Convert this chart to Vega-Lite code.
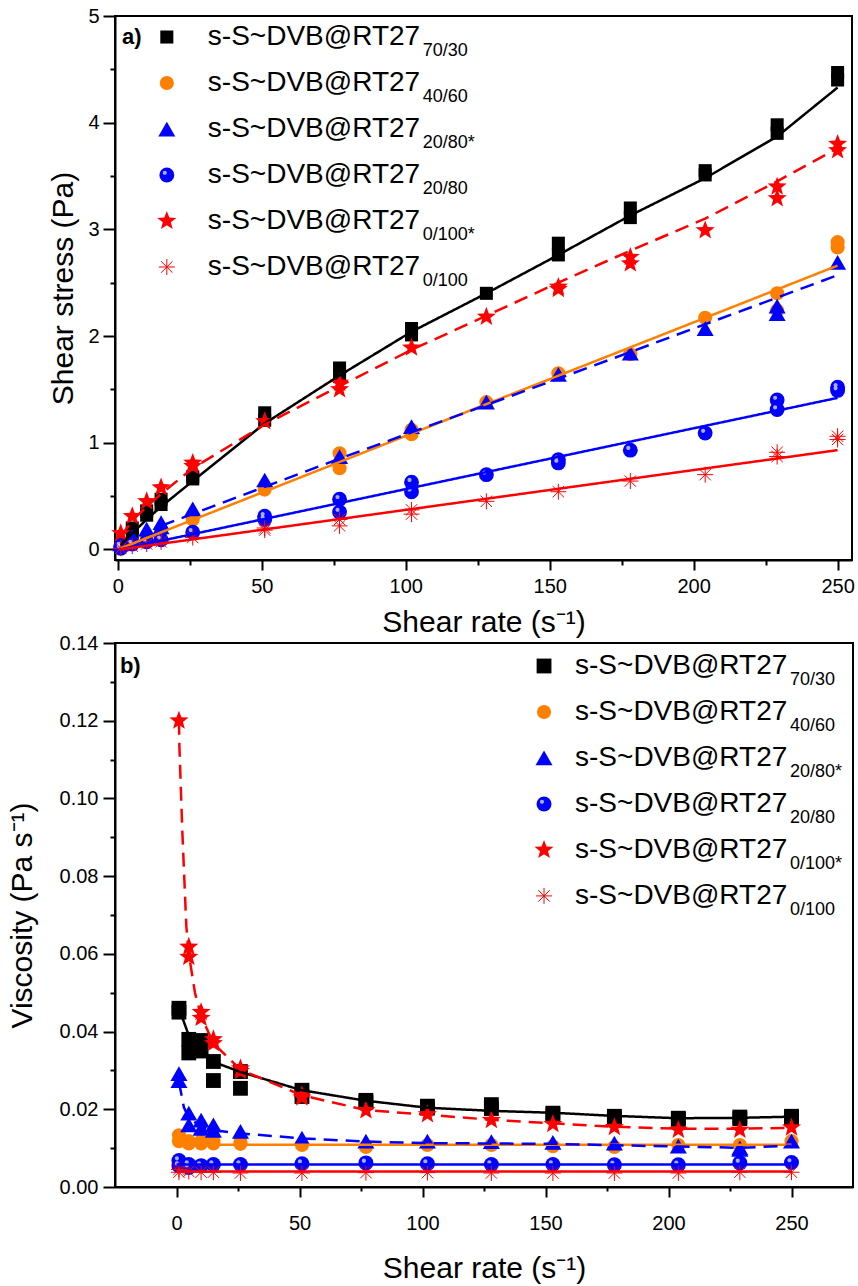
{
  "$schema": "https://vega.github.io/schema/vega-lite/v6.json",
  "background": "white",
  "padding": {"left": 6, "top": 5, "right": 2, "bottom": 2},
  "spacing": -6,
  "config": {
    "font": "Liberation Sans",
    "view": {"stroke": "black", "strokeWidth": 2},
    "axis": {"labelFont": "Liberation Sans", "titleFont": "Liberation Sans", "labelFontSize": 20, "titleFontSize": 30, "titleFontWeight": "normal", "labelColor": "black", "titleColor": "black", "domainColor": "black", "domainWidth": 2, "tickColor": "black", "tickWidth": 2, "grid": false},
    "text": {"font": "Liberation Sans", "color": "black"}
  },
  "resolve": {"scale": {"x": "independent", "y": "independent", "size": "independent"}},
  "datasets": {
    "legend": [
      {"series": "70/30", "main": "s-S~DVB@RT27", "sub": "70/30", "rank": 1},
      {"series": "40/60", "main": "s-S~DVB@RT27", "sub": "40/60", "rank": 2},
      {"series": "20/80*", "main": "s-S~DVB@RT27", "sub": "20/80*", "rank": 3},
      {"series": "20/80", "main": "s-S~DVB@RT27", "sub": "20/80", "rank": 4},
      {"series": "0/100*", "main": "s-S~DVB@RT27", "sub": "0/100*", "rank": 5},
      {"series": "0/100", "main": "s-S~DVB@RT27", "sub": "0/100", "rank": 6}
    ],
    "stress": [
      {"series": "70/30", "rate": 1, "stress": 0.05}, {"series": "70/30", "rate": 5, "stress": 0.2}, {"series": "70/30", "rate": 5, "stress": 0.15}, {"series": "70/30", "rate": 10, "stress": 0.36}, {"series": "70/30", "rate": 10, "stress": 0.32}, {"series": "70/30", "rate": 15, "stress": 0.47}, {"series": "70/30", "rate": 15, "stress": 0.42}, {"series": "70/30", "rate": 26, "stress": 0.68}, {"series": "70/30", "rate": 26, "stress": 0.66}, {"series": "70/30", "rate": 51, "stress": 1.28}, {"series": "70/30", "rate": 51, "stress": 1.21}, {"series": "70/30", "rate": 77, "stress": 1.7}, {"series": "70/30", "rate": 77, "stress": 1.62}, {"series": "70/30", "rate": 102, "stress": 2.07}, {"series": "70/30", "rate": 102, "stress": 2.01}, {"series": "70/30", "rate": 128, "stress": 2.4}, {"series": "70/30", "rate": 153, "stress": 2.87}, {"series": "70/30", "rate": 153, "stress": 2.76}, {"series": "70/30", "rate": 178, "stress": 3.2}, {"series": "70/30", "rate": 178, "stress": 3.11}, {"series": "70/30", "rate": 204, "stress": 3.55}, {"series": "70/30", "rate": 204, "stress": 3.51}, {"series": "70/30", "rate": 229, "stress": 3.98}, {"series": "70/30", "rate": 229, "stress": 3.9}, {"series": "70/30", "rate": 250, "stress": 4.47}, {"series": "70/30", "rate": 250, "stress": 4.4},
      {"series": "40/60", "rate": 1, "stress": 0.02}, {"series": "40/60", "rate": 5, "stress": 0.06}, {"series": "40/60", "rate": 10, "stress": 0.12}, {"series": "40/60", "rate": 15, "stress": 0.17}, {"series": "40/60", "rate": 26, "stress": 0.31}, {"series": "40/60", "rate": 26, "stress": 0.28}, {"series": "40/60", "rate": 51, "stress": 0.56}, {"series": "40/60", "rate": 77, "stress": 0.9}, {"series": "40/60", "rate": 77, "stress": 0.76}, {"series": "40/60", "rate": 102, "stress": 1.12}, {"series": "40/60", "rate": 102, "stress": 1.08}, {"series": "40/60", "rate": 128, "stress": 1.38}, {"series": "40/60", "rate": 153, "stress": 1.65}, {"series": "40/60", "rate": 178, "stress": 1.83}, {"series": "40/60", "rate": 204, "stress": 2.17}, {"series": "40/60", "rate": 229, "stress": 2.4}, {"series": "40/60", "rate": 229, "stress": 2.24}, {"series": "40/60", "rate": 250, "stress": 2.88}, {"series": "40/60", "rate": 250, "stress": 2.83},
      {"series": "20/80*", "rate": 1, "stress": 0.05}, {"series": "20/80*", "rate": 5, "stress": 0.12}, {"series": "20/80*", "rate": 10, "stress": 0.19}, {"series": "20/80*", "rate": 15, "stress": 0.25}, {"series": "20/80*", "rate": 15, "stress": 0.21}, {"series": "20/80*", "rate": 26, "stress": 0.38}, {"series": "20/80*", "rate": 51, "stress": 0.65}, {"series": "20/80*", "rate": 77, "stress": 0.87}, {"series": "20/80*", "rate": 102, "stress": 1.15}, {"series": "20/80*", "rate": 128, "stress": 1.38}, {"series": "20/80*", "rate": 153, "stress": 1.64}, {"series": "20/80*", "rate": 178, "stress": 1.84}, {"series": "20/80*", "rate": 204, "stress": 2.07}, {"series": "20/80*", "rate": 229, "stress": 2.28}, {"series": "20/80*", "rate": 229, "stress": 2.21}, {"series": "20/80*", "rate": 250, "stress": 2.69},
      {"series": "20/80", "rate": 1, "stress": 0.03}, {"series": "20/80", "rate": 1, "stress": 0.01}, {"series": "20/80", "rate": 5, "stress": 0.05}, {"series": "20/80", "rate": 10, "stress": 0.07}, {"series": "20/80", "rate": 15, "stress": 0.09}, {"series": "20/80", "rate": 26, "stress": 0.16}, {"series": "20/80", "rate": 51, "stress": 0.31}, {"series": "20/80", "rate": 51, "stress": 0.28}, {"series": "20/80", "rate": 77, "stress": 0.47}, {"series": "20/80", "rate": 77, "stress": 0.35}, {"series": "20/80", "rate": 102, "stress": 0.63}, {"series": "20/80", "rate": 102, "stress": 0.54}, {"series": "20/80", "rate": 128, "stress": 0.7}, {"series": "20/80", "rate": 153, "stress": 0.84}, {"series": "20/80", "rate": 153, "stress": 0.81}, {"series": "20/80", "rate": 178, "stress": 0.93}, {"series": "20/80", "rate": 204, "stress": 1.09}, {"series": "20/80", "rate": 229, "stress": 1.4}, {"series": "20/80", "rate": 229, "stress": 1.31}, {"series": "20/80", "rate": 250, "stress": 1.52}, {"series": "20/80", "rate": 250, "stress": 1.49},
      {"series": "0/100*", "rate": 1, "stress": 0.15}, {"series": "0/100*", "rate": 5, "stress": 0.31}, {"series": "0/100*", "rate": 10, "stress": 0.45}, {"series": "0/100*", "rate": 15, "stress": 0.58}, {"series": "0/100*", "rate": 26, "stress": 0.81}, {"series": "0/100*", "rate": 26, "stress": 0.78}, {"series": "0/100*", "rate": 51, "stress": 1.2}, {"series": "0/100*", "rate": 77, "stress": 1.56}, {"series": "0/100*", "rate": 77, "stress": 1.5}, {"series": "0/100*", "rate": 102, "stress": 1.89}, {"series": "0/100*", "rate": 128, "stress": 2.18}, {"series": "0/100*", "rate": 153, "stress": 2.46}, {"series": "0/100*", "rate": 153, "stress": 2.44}, {"series": "0/100*", "rate": 178, "stress": 2.74}, {"series": "0/100*", "rate": 178, "stress": 2.68}, {"series": "0/100*", "rate": 204, "stress": 2.99}, {"series": "0/100*", "rate": 229, "stress": 3.4}, {"series": "0/100*", "rate": 229, "stress": 3.29}, {"series": "0/100*", "rate": 250, "stress": 3.8}, {"series": "0/100*", "rate": 250, "stress": 3.74},
      {"series": "0/100", "rate": 1, "stress": 0.01}, {"series": "0/100", "rate": 5, "stress": 0.03}, {"series": "0/100", "rate": 10, "stress": 0.05}, {"series": "0/100", "rate": 15, "stress": 0.07}, {"series": "0/100", "rate": 26, "stress": 0.11}, {"series": "0/100", "rate": 51, "stress": 0.2}, {"series": "0/100", "rate": 51, "stress": 0.18}, {"series": "0/100", "rate": 77, "stress": 0.28}, {"series": "0/100", "rate": 77, "stress": 0.22}, {"series": "0/100", "rate": 102, "stress": 0.37}, {"series": "0/100", "rate": 102, "stress": 0.33}, {"series": "0/100", "rate": 128, "stress": 0.45}, {"series": "0/100", "rate": 153, "stress": 0.54}, {"series": "0/100", "rate": 178, "stress": 0.64}, {"series": "0/100", "rate": 204, "stress": 0.7}, {"series": "0/100", "rate": 229, "stress": 0.91}, {"series": "0/100", "rate": 229, "stress": 0.87}, {"series": "0/100", "rate": 250, "stress": 1.06}, {"series": "0/100", "rate": 250, "stress": 1.03}
    ],
    "stressFit": [
      {"series": "70/30", "rate": 1, "stress": 0.04}, {"series": "70/30", "rate": 5, "stress": 0.15}, {"series": "70/30", "rate": 10, "stress": 0.28}, {"series": "70/30", "rate": 15, "stress": 0.4}, {"series": "70/30", "rate": 26, "stress": 0.64}, {"series": "70/30", "rate": 51, "stress": 1.18}, {"series": "70/30", "rate": 77, "stress": 1.63}, {"series": "70/30", "rate": 102, "stress": 2.04}, {"series": "70/30", "rate": 128, "stress": 2.4}, {"series": "70/30", "rate": 153, "stress": 2.76}, {"series": "70/30", "rate": 178, "stress": 3.13}, {"series": "70/30", "rate": 204, "stress": 3.48}, {"series": "70/30", "rate": 229, "stress": 3.87}, {"series": "70/30", "rate": 250, "stress": 4.33},
      {"series": "40/60", "rate": 1, "stress": 0.01}, {"series": "40/60", "rate": 250, "stress": 2.66},
      {"series": "20/80*", "rate": 15, "stress": 0.22}, {"series": "20/80*", "rate": 77, "stress": 0.85}, {"series": "20/80*", "rate": 153, "stress": 1.6}, {"series": "20/80*", "rate": 250, "stress": 2.57},
      {"series": "20/80", "rate": 1, "stress": 0.0}, {"series": "20/80", "rate": 250, "stress": 1.42},
      {"series": "0/100*", "rate": 1, "stress": 0.12}, {"series": "0/100*", "rate": 5, "stress": 0.27}, {"series": "0/100*", "rate": 10, "stress": 0.4}, {"series": "0/100*", "rate": 15, "stress": 0.52}, {"series": "0/100*", "rate": 26, "stress": 0.76}, {"series": "0/100*", "rate": 51, "stress": 1.17}, {"series": "0/100*", "rate": 77, "stress": 1.53}, {"series": "0/100*", "rate": 102, "stress": 1.87}, {"series": "0/100*", "rate": 128, "stress": 2.19}, {"series": "0/100*", "rate": 153, "stress": 2.5}, {"series": "0/100*", "rate": 178, "stress": 2.8}, {"series": "0/100*", "rate": 204, "stress": 3.1}, {"series": "0/100*", "rate": 229, "stress": 3.45}, {"series": "0/100*", "rate": 250, "stress": 3.76},
      {"series": "0/100", "rate": 1, "stress": 0.0}, {"series": "0/100", "rate": 250, "stress": 0.93}
    ],
    "visc": [
      {"series": "70/30", "rate": 1, "visc": 0.046}, {"series": "70/30", "rate": 1, "visc": 0.045}, {"series": "70/30", "rate": 5, "visc": 0.038}, {"series": "70/30", "rate": 5, "visc": 0.0345}, {"series": "70/30", "rate": 10, "visc": 0.0377}, {"series": "70/30", "rate": 10, "visc": 0.035}, {"series": "70/30", "rate": 15, "visc": 0.0323}, {"series": "70/30", "rate": 15, "visc": 0.0274}, {"series": "70/30", "rate": 26, "visc": 0.0297}, {"series": "70/30", "rate": 26, "visc": 0.0254}, {"series": "70/30", "rate": 51, "visc": 0.0249}, {"series": "70/30", "rate": 51, "visc": 0.0233}, {"series": "70/30", "rate": 77, "visc": 0.0223}, {"series": "70/30", "rate": 77, "visc": 0.0218}, {"series": "70/30", "rate": 102, "visc": 0.0208}, {"series": "70/30", "rate": 102, "visc": 0.0203}, {"series": "70/30", "rate": 128, "visc": 0.0212}, {"series": "70/30", "rate": 128, "visc": 0.0202}, {"series": "70/30", "rate": 153, "visc": 0.019}, {"series": "70/30", "rate": 153, "visc": 0.0186}, {"series": "70/30", "rate": 178, "visc": 0.0182}, {"series": "70/30", "rate": 178, "visc": 0.0178}, {"series": "70/30", "rate": 204, "visc": 0.0177}, {"series": "70/30", "rate": 204, "visc": 0.0174}, {"series": "70/30", "rate": 229, "visc": 0.018}, {"series": "70/30", "rate": 229, "visc": 0.0176}, {"series": "70/30", "rate": 250, "visc": 0.0182}, {"series": "70/30", "rate": 250, "visc": 0.0178},
      {"series": "40/60", "rate": 1, "visc": 0.0133}, {"series": "40/60", "rate": 1, "visc": 0.0118}, {"series": "40/60", "rate": 5, "visc": 0.0118}, {"series": "40/60", "rate": 5, "visc": 0.0112}, {"series": "40/60", "rate": 10, "visc": 0.0118}, {"series": "40/60", "rate": 10, "visc": 0.0112}, {"series": "40/60", "rate": 15, "visc": 0.0118}, {"series": "40/60", "rate": 15, "visc": 0.0112}, {"series": "40/60", "rate": 26, "visc": 0.0116}, {"series": "40/60", "rate": 26, "visc": 0.0111}, {"series": "40/60", "rate": 51, "visc": 0.0108}, {"series": "40/60", "rate": 77, "visc": 0.0103}, {"series": "40/60", "rate": 102, "visc": 0.0108}, {"series": "40/60", "rate": 128, "visc": 0.0108}, {"series": "40/60", "rate": 153, "visc": 0.0105}, {"series": "40/60", "rate": 178, "visc": 0.0103}, {"series": "40/60", "rate": 204, "visc": 0.0108}, {"series": "40/60", "rate": 229, "visc": 0.0108}, {"series": "40/60", "rate": 250, "visc": 0.0118},
      {"series": "20/80*", "rate": 1, "visc": 0.0292}, {"series": "20/80*", "rate": 1, "visc": 0.0274}, {"series": "20/80*", "rate": 5, "visc": 0.019}, {"series": "20/80*", "rate": 5, "visc": 0.016}, {"series": "20/80*", "rate": 10, "visc": 0.0172}, {"series": "20/80*", "rate": 10, "visc": 0.0151}, {"series": "20/80*", "rate": 15, "visc": 0.016}, {"series": "20/80*", "rate": 15, "visc": 0.0146}, {"series": "20/80*", "rate": 26, "visc": 0.0143}, {"series": "20/80*", "rate": 51, "visc": 0.0126}, {"series": "20/80*", "rate": 77, "visc": 0.0118}, {"series": "20/80*", "rate": 102, "visc": 0.0118}, {"series": "20/80*", "rate": 128, "visc": 0.0117}, {"series": "20/80*", "rate": 153, "visc": 0.0115}, {"series": "20/80*", "rate": 178, "visc": 0.0113}, {"series": "20/80*", "rate": 204, "visc": 0.0105}, {"series": "20/80*", "rate": 229, "visc": 0.0101}, {"series": "20/80*", "rate": 229, "visc": 0.0097}, {"series": "20/80*", "rate": 250, "visc": 0.0118},
      {"series": "20/80", "rate": 1, "visc": 0.0068}, {"series": "20/80", "rate": 1, "visc": 0.0055}, {"series": "20/80", "rate": 5, "visc": 0.0058}, {"series": "20/80", "rate": 5, "visc": 0.005}, {"series": "20/80", "rate": 10, "visc": 0.0055}, {"series": "20/80", "rate": 15, "visc": 0.0058}, {"series": "20/80", "rate": 26, "visc": 0.0058}, {"series": "20/80", "rate": 51, "visc": 0.006}, {"series": "20/80", "rate": 77, "visc": 0.0062}, {"series": "20/80", "rate": 102, "visc": 0.006}, {"series": "20/80", "rate": 128, "visc": 0.0058}, {"series": "20/80", "rate": 153, "visc": 0.0058}, {"series": "20/80", "rate": 178, "visc": 0.0057}, {"series": "20/80", "rate": 204, "visc": 0.0057}, {"series": "20/80", "rate": 229, "visc": 0.0062}, {"series": "20/80", "rate": 250, "visc": 0.0063},
      {"series": "0/100*", "rate": 1, "visc": 0.12}, {"series": "0/100*", "rate": 5, "visc": 0.0618}, {"series": "0/100*", "rate": 5, "visc": 0.0592}, {"series": "0/100*", "rate": 10, "visc": 0.045}, {"series": "0/100*", "rate": 10, "visc": 0.0435}, {"series": "0/100*", "rate": 15, "visc": 0.038}, {"series": "0/100*", "rate": 15, "visc": 0.037}, {"series": "0/100*", "rate": 26, "visc": 0.0305}, {"series": "0/100*", "rate": 26, "visc": 0.0298}, {"series": "0/100*", "rate": 51, "visc": 0.0236}, {"series": "0/100*", "rate": 51, "visc": 0.023}, {"series": "0/100*", "rate": 77, "visc": 0.0197}, {"series": "0/100*", "rate": 102, "visc": 0.0187}, {"series": "0/100*", "rate": 128, "visc": 0.0172}, {"series": "0/100*", "rate": 153, "visc": 0.0162}, {"series": "0/100*", "rate": 178, "visc": 0.0154}, {"series": "0/100*", "rate": 204, "visc": 0.0147}, {"series": "0/100*", "rate": 229, "visc": 0.0147}, {"series": "0/100*", "rate": 250, "visc": 0.0153},
      {"series": "0/100", "rate": 1, "visc": 0.0045}, {"series": "0/100", "rate": 1, "visc": 0.0038}, {"series": "0/100", "rate": 5, "visc": 0.004}, {"series": "0/100", "rate": 10, "visc": 0.0038}, {"series": "0/100", "rate": 15, "visc": 0.0038}, {"series": "0/100", "rate": 26, "visc": 0.0036}, {"series": "0/100", "rate": 51, "visc": 0.0036}, {"series": "0/100", "rate": 77, "visc": 0.0037}, {"series": "0/100", "rate": 102, "visc": 0.0037}, {"series": "0/100", "rate": 128, "visc": 0.0036}, {"series": "0/100", "rate": 153, "visc": 0.0036}, {"series": "0/100", "rate": 178, "visc": 0.0036}, {"series": "0/100", "rate": 204, "visc": 0.0036}, {"series": "0/100", "rate": 229, "visc": 0.0038}, {"series": "0/100", "rate": 250, "visc": 0.0038}
    ],
    "viscFit": [
      {"series": "70/30", "rate": 1, "visc": 0.046}, {"series": "70/30", "rate": 5, "visc": 0.039}, {"series": "70/30", "rate": 10, "visc": 0.035}, {"series": "70/30", "rate": 15, "visc": 0.0322}, {"series": "70/30", "rate": 26, "visc": 0.0296}, {"series": "70/30", "rate": 51, "visc": 0.0249}, {"series": "70/30", "rate": 77, "visc": 0.0222}, {"series": "70/30", "rate": 102, "visc": 0.0204}, {"series": "70/30", "rate": 128, "visc": 0.0196}, {"series": "70/30", "rate": 153, "visc": 0.0191}, {"series": "70/30", "rate": 178, "visc": 0.0183}, {"series": "70/30", "rate": 204, "visc": 0.0177}, {"series": "70/30", "rate": 229, "visc": 0.0178}, {"series": "70/30", "rate": 250, "visc": 0.0181},
      {"series": "40/60", "rate": 1, "visc": 0.0109}, {"series": "40/60", "rate": 250, "visc": 0.0109},
      {"series": "20/80*", "rate": 1, "visc": 0.027}, {"series": "20/80*", "rate": 3, "visc": 0.0205}, {"series": "20/80*", "rate": 5, "visc": 0.0178}, {"series": "20/80*", "rate": 10, "visc": 0.0155}, {"series": "20/80*", "rate": 15, "visc": 0.0146}, {"series": "20/80*", "rate": 26, "visc": 0.0138}, {"series": "20/80*", "rate": 51, "visc": 0.0125}, {"series": "20/80*", "rate": 77, "visc": 0.0117}, {"series": "20/80*", "rate": 102, "visc": 0.0113}, {"series": "20/80*", "rate": 153, "visc": 0.0111}, {"series": "20/80*", "rate": 204, "visc": 0.0104}, {"series": "20/80*", "rate": 229, "visc": 0.0101}, {"series": "20/80*", "rate": 250, "visc": 0.0106},
      {"series": "20/80", "rate": 0, "visc": 0.0058}, {"series": "20/80", "rate": 250, "visc": 0.0058},
      {"series": "0/100*", "rate": 1, "visc": 0.12}, {"series": "0/100*", "rate": 1.2, "visc": 0.113}, {"series": "0/100*", "rate": 2.4, "visc": 0.091}, {"series": "0/100*", "rate": 4, "visc": 0.067}, {"series": "0/100*", "rate": 5, "visc": 0.06}, {"series": "0/100*", "rate": 7.5, "visc": 0.05}, {"series": "0/100*", "rate": 10, "visc": 0.044}, {"series": "0/100*", "rate": 15, "visc": 0.037}, {"series": "0/100*", "rate": 26, "visc": 0.0302}, {"series": "0/100*", "rate": 51, "visc": 0.0236}, {"series": "0/100*", "rate": 77, "visc": 0.0198}, {"series": "0/100*", "rate": 102, "visc": 0.0186}, {"series": "0/100*", "rate": 128, "visc": 0.0173}, {"series": "0/100*", "rate": 153, "visc": 0.0164}, {"series": "0/100*", "rate": 178, "visc": 0.0155}, {"series": "0/100*", "rate": 204, "visc": 0.015}, {"series": "0/100*", "rate": 229, "visc": 0.015}, {"series": "0/100*", "rate": 250, "visc": 0.0152},
      {"series": "0/100", "rate": 0, "visc": 0.004}, {"series": "0/100", "rate": 250, "visc": 0.004}
    ]
  },
  "vconcat": [
    {
      "width": 737,
      "height": 544,
      "resolve": {"scale": {"y": "independent"}},
      "layer": [
        {
          "encoding": {
            "x": {"field": "rate", "type": "quantitative", "scale": {"domain": [-1, 255], "nice": false, "zero": false},
              "axis": {"title": "Shear rate (s⁻¹)", "values": [0, 25, 50, 75, 100, 125, 150, 175, 200, 225, 250], "labelExpr": "datum.value % 50 === 0 ? datum.label : ''", "tickSize": {"condition": {"test": "datum.value % 50 === 0", "value": 10}, "value": 5}, "labelPadding": 6, "titlePadding": 11}},
            "y": {"field": "stress", "type": "quantitative", "scale": {"domain": [-0.1, 5], "nice": false, "zero": false},
              "axis": {"title": "Shear stress (Pa)", "values": [0, 0.5, 1, 1.5, 2, 2.5, 3, 3.5, 4, 4.5, 5], "labelExpr": "datum.value % 1 === 0 ? format(datum.value, 'd') : ''", "tickSize": {"condition": {"test": "datum.value % 1 === 0", "value": 12}, "value": 5}, "labelPadding": 4, "titlePadding": 9}}
          },
          "layer": [
            {
              "data": {"name": "stress"},
              "transform": [{"filter": "datum.series !== '0/100'"}],
              "mark": {"type": "point", "filled": true, "opacity": 1},
              "encoding": {
                "color": {"field": "series", "type": "nominal", "scale": {"domain": ["70/30", "40/60", "20/80*", "20/80", "0/100*", "0/100"], "range": ["#000000", "#FF8000", "#0000FF", "#0000FF", "#FF0000", "#FF0000"]}, "legend": null},
                "shape": {"field": "series", "type": "nominal", "scale": {"domain": ["70/30", "40/60", "20/80*", "20/80", "0/100*", "0/100"], "range": ["square", "circle", "triangle-up", "circle", "M0,-1L0.247,-0.34L0.951,-0.309L0.399,0.13L0.588,0.809L0,0.42L-0.588,0.809L-0.399,0.13L-0.951,-0.309L-0.247,-0.34Z", "M-1,0L1,0M0,-1L0,1M-0.71,-0.71L0.71,0.71M-0.71,0.71L0.71,-0.71"]}, "legend": null},
                "size": {"field": "series", "type": "nominal", "scale": {"type": "ordinal", "domain": ["70/30", "40/60", "20/80*", "20/80", "0/100*", "0/100"], "range": [170, 200, 290, 220, 400, 256]}, "legend": null}
              }
            },
            {
              "data": {"name": "stress"},
              "transform": [{"filter": "datum.series === '20/80'"}],
              "mark": {"type": "point", "filled": true, "opacity": 0.8, "color": "#d8d8ff", "size": 220, "shape": "M-0.55,-0.3A0.275,0.275 0 1,0 0,-0.3A0.275,0.275 0 1,0 -0.55,-0.3Z"}
            },
            {
              "data": {"name": "stress"},
              "transform": [{"filter": "datum.series === '0/100'"}],
              "mark": {"type": "point", "filled": false, "opacity": 1, "strokeWidth": 1, "color": "#FF0000", "size": 256, "shape": "M-1,0L1,0M0,-1L0,1M-0.71,-0.71L0.71,0.71M-0.71,0.71L0.71,-0.71"}
            },
            {
              "data": {"name": "stressFit"},
              "mark": {"type": "line", "strokeWidth": 2.5},
              "encoding": {
                "color": {"field": "series", "type": "nominal", "legend": null},
                "strokeDash": {"field": "series", "type": "nominal", "scale": {"domain": ["70/30", "40/60", "20/80*", "20/80", "0/100*", "0/100"], "range": [[1, 0], [1, 0], [14, 8], [1, 0], [14, 8], [1, 0]]}, "legend": null}
              }
            }
          ]
        },
        {
          "data": {"name": "legend"},
          "encoding": {
            "x": {"datum": 17, "type": "quantitative"},
            "y": {"field": "rank", "type": "quantitative", "scale": {"domain": [0.543, 12.37], "reverse": true, "nice": false, "zero": false}, "axis": null}
          },
          "layer": [
            {
              "transform": [{"filter": "datum.series !== '0/100'"}],
              "mark": {"type": "point", "filled": true, "opacity": 1},
              "encoding": {
                "color": {"field": "series", "type": "nominal", "scale": {"domain": ["70/30", "40/60", "20/80*", "20/80", "0/100*", "0/100"], "range": ["#000000", "#FF8000", "#0000FF", "#0000FF", "#FF0000", "#FF0000"]}, "legend": null},
                "shape": {"field": "series", "type": "nominal", "scale": {"domain": ["70/30", "40/60", "20/80*", "20/80", "0/100*", "0/100"], "range": ["square", "circle", "triangle-up", "circle", "M0,-1L0.247,-0.34L0.951,-0.309L0.399,0.13L0.588,0.809L0,0.42L-0.588,0.809L-0.399,0.13L-0.951,-0.309L-0.247,-0.34Z", "M-1,0L1,0M0,-1L0,1M-0.71,-0.71L0.71,0.71M-0.71,0.71L0.71,-0.71"]}, "legend": null},
                "size": {"field": "series", "type": "nominal", "scale": {"type": "ordinal", "domain": ["70/30", "40/60", "20/80*", "20/80", "0/100*", "0/100"], "range": [170, 200, 290, 220, 400, 256]}, "legend": null}
              }
            },
            {
              "transform": [{"filter": "datum.series === '20/80'"}],
              "mark": {"type": "point", "filled": true, "opacity": 0.8, "color": "#d8d8ff", "size": 220, "shape": "M-0.55,-0.3A0.275,0.275 0 1,0 0,-0.3A0.275,0.275 0 1,0 -0.55,-0.3Z"}
            },
            {
              "transform": [{"filter": "datum.series === '0/100'"}],
              "mark": {"type": "point", "filled": false, "opacity": 1, "strokeWidth": 1, "color": "#FF0000", "size": 256, "shape": "M-1,0L1,0M0,-1L0,1M-0.71,-0.71L0.71,0.71M-0.71,0.71L0.71,-0.71"}
            },
            {
              "mark": {"type": "text", "align": "left", "baseline": "middle", "dx": 41, "fontSize": 28},
              "encoding": {"text": {"field": "main"}}
            },
            {
              "mark": {"type": "text", "align": "left", "baseline": "middle", "dx": 256, "dy": 14, "fontSize": 18},
              "encoding": {"text": {"field": "sub"}}
            },
            {
              "data": {"values": [{"label": "a)", "rank": 1}]},
              "mark": {"type": "text", "align": "left", "baseline": "middle", "fontSize": 22, "fontWeight": "bold"},
              "encoding": {"x": {"datum": 1.4, "type": "quantitative"}, "text": {"field": "label"}}
            }
          ]
        }
      ]
    },
    {
      "width": 738,
      "height": 544,
      "resolve": {"scale": {"y": "independent"}},
      "layer": [
        {
          "encoding": {
            "x": {"field": "rate", "type": "quantitative", "scale": {"domain": [-25, 275], "nice": false, "zero": false},
              "axis": {"title": "Shear rate (s⁻¹)", "values": [0, 25, 50, 75, 100, 125, 150, 175, 200, 225, 250], "labelExpr": "datum.value % 50 === 0 ? datum.label : ''", "tickSize": {"condition": {"test": "datum.value % 50 === 0", "value": 10}, "value": 4}, "labelPadding": 16, "titlePadding": 20}},
            "y": {"field": "visc", "type": "quantitative", "scale": {"domain": [0, 0.14], "nice": false, "zero": false},
              "axis": {"title": "Viscosity (Pa s⁻¹)", "values": [0, 0.01, 0.02, 0.03, 0.04, 0.05, 0.06, 0.07, 0.08, 0.09, 0.1, 0.11, 0.12, 0.13, 0.14], "labelExpr": "round(datum.value * 100) % 2 === 0 ? format(datum.value, '.2f') : ''", "tickSize": {"condition": {"test": "round(datum.value * 100) % 2 === 0", "value": 12}, "value": 5}, "labelPadding": 5, "titlePadding": 22}}
          },
          "layer": [
            {
              "data": {"name": "visc"},
              "transform": [{"filter": "datum.series !== '0/100'"}],
              "mark": {"type": "point", "filled": true, "opacity": 1},
              "encoding": {
                "color": {"field": "series", "type": "nominal", "scale": {"domain": ["70/30", "40/60", "20/80*", "20/80", "0/100*", "0/100"], "range": ["#000000", "#FF8000", "#0000FF", "#0000FF", "#FF0000", "#FF0000"]}, "legend": null},
                "shape": {"field": "series", "type": "nominal", "scale": {"domain": ["70/30", "40/60", "20/80*", "20/80", "0/100*", "0/100"], "range": ["square", "circle", "triangle-up", "circle", "M0,-1L0.247,-0.34L0.951,-0.309L0.399,0.13L0.588,0.809L0,0.42L-0.588,0.809L-0.399,0.13L-0.951,-0.309L-0.247,-0.34Z", "M-1,0L1,0M0,-1L0,1M-0.71,-0.71L0.71,0.71M-0.71,0.71L0.71,-0.71"]}, "legend": null},
                "size": {"field": "series", "type": "nominal", "scale": {"type": "ordinal", "domain": ["70/30", "40/60", "20/80*", "20/80", "0/100*", "0/100"], "range": [220, 200, 290, 225, 400, 256]}, "legend": null}
              }
            },
            {
              "data": {"name": "visc"},
              "transform": [{"filter": "datum.series === '20/80'"}],
              "mark": {"type": "point", "filled": true, "opacity": 0.8, "color": "#d8d8ff", "size": 225, "shape": "M-0.55,-0.3A0.275,0.275 0 1,0 0,-0.3A0.275,0.275 0 1,0 -0.55,-0.3Z"}
            },
            {
              "data": {"name": "visc"},
              "transform": [{"filter": "datum.series === '0/100'"}],
              "mark": {"type": "point", "filled": false, "opacity": 1, "strokeWidth": 1, "color": "#FF0000", "size": 256, "shape": "M-1,0L1,0M0,-1L0,1M-0.71,-0.71L0.71,0.71M-0.71,0.71L0.71,-0.71"}
            },
            {
              "data": {"name": "viscFit"},
              "mark": {"type": "line", "strokeWidth": 2.5},
              "encoding": {
                "color": {"field": "series", "type": "nominal", "legend": null},
                "strokeDash": {"field": "series", "type": "nominal", "scale": {"domain": ["70/30", "40/60", "20/80*", "20/80", "0/100*", "0/100"], "range": [[1, 0], [1, 0], [14, 8], [1, 0], [14, 8], [1, 0]]}, "legend": null}
              }
            }
          ]
        },
        {
          "data": {"name": "legend"},
          "encoding": {
            "x": {"datum": 149.4, "type": "quantitative"},
            "y": {"field": "rank", "type": "quantitative", "scale": {"domain": [0.5, 12.33], "reverse": true, "nice": false, "zero": false}, "axis": null}
          },
          "layer": [
            {
              "transform": [{"filter": "datum.series !== '0/100'"}],
              "mark": {"type": "point", "filled": true, "opacity": 1},
              "encoding": {
                "color": {"field": "series", "type": "nominal", "scale": {"domain": ["70/30", "40/60", "20/80*", "20/80", "0/100*", "0/100"], "range": ["#000000", "#FF8000", "#0000FF", "#0000FF", "#FF0000", "#FF0000"]}, "legend": null},
                "shape": {"field": "series", "type": "nominal", "scale": {"domain": ["70/30", "40/60", "20/80*", "20/80", "0/100*", "0/100"], "range": ["square", "circle", "triangle-up", "circle", "M0,-1L0.247,-0.34L0.951,-0.309L0.399,0.13L0.588,0.809L0,0.42L-0.588,0.809L-0.399,0.13L-0.951,-0.309L-0.247,-0.34Z", "M-1,0L1,0M0,-1L0,1M-0.71,-0.71L0.71,0.71M-0.71,0.71L0.71,-0.71"]}, "legend": null},
                "size": {"field": "series", "type": "nominal", "scale": {"type": "ordinal", "domain": ["70/30", "40/60", "20/80*", "20/80", "0/100*", "0/100"], "range": [220, 200, 290, 225, 400, 256]}, "legend": null}
              }
            },
            {
              "transform": [{"filter": "datum.series === '20/80'"}],
              "mark": {"type": "point", "filled": true, "opacity": 0.8, "color": "#d8d8ff", "size": 225, "shape": "M-0.55,-0.3A0.275,0.275 0 1,0 0,-0.3A0.275,0.275 0 1,0 -0.55,-0.3Z"}
            },
            {
              "transform": [{"filter": "datum.series === '0/100'"}],
              "mark": {"type": "point", "filled": false, "opacity": 1, "strokeWidth": 1, "color": "#FF0000", "size": 256, "shape": "M-1,0L1,0M0,-1L0,1M-0.71,-0.71L0.71,0.71M-0.71,0.71L0.71,-0.71"}
            },
            {
              "mark": {"type": "text", "align": "left", "baseline": "middle", "dx": 31, "fontSize": 28},
              "encoding": {"text": {"field": "main"}}
            },
            {
              "mark": {"type": "text", "align": "left", "baseline": "middle", "dx": 246, "dy": 14, "fontSize": 18},
              "encoding": {"text": {"field": "sub"}}
            },
            {
              "data": {"values": [{"label": "b)", "rank": 1}]},
              "mark": {"type": "text", "align": "left", "baseline": "middle", "fontSize": 22, "fontWeight": "bold"},
              "encoding": {"x": {"datum": -23, "type": "quantitative"}, "text": {"field": "label"}}
            }
          ]
        }
      ]
    }
  ]
}
